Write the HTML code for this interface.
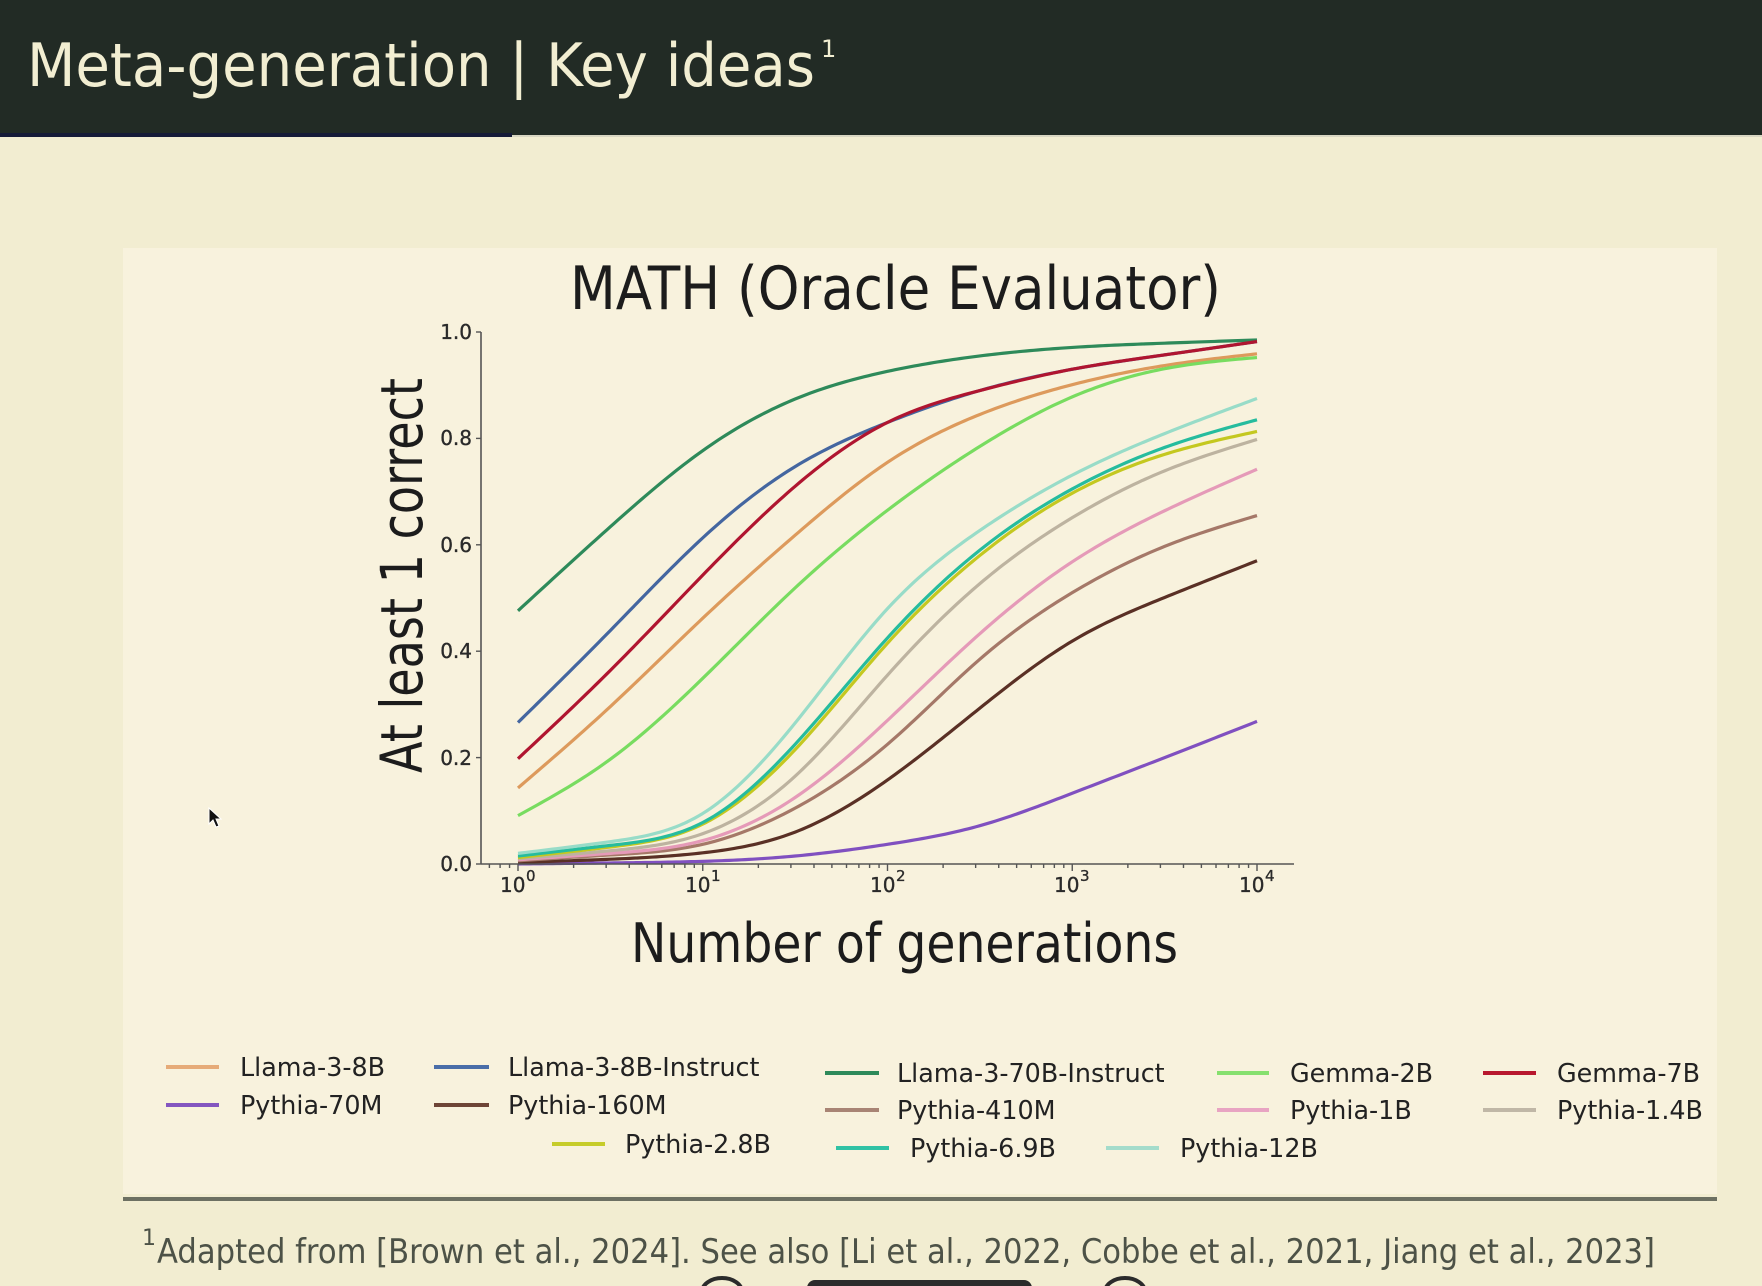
<!DOCTYPE html>
<html><head><meta charset="utf-8">
<style>
html,body{margin:0;padding:0;background:#f2edd1;overflow:hidden;}
svg{display:block}
text{font-family:"DejaVu Sans","Liberation Sans",sans-serif;}
</style></head>
<body>
<svg id="s" width="1762" height="1286" viewBox="0 0 1762 1286" xmlns="http://www.w3.org/2000/svg">
<rect width="1762" height="1286" fill="#f2edd1"/>
<!-- header -->
<rect x="0" y="0" width="1762" height="135" fill="#222b25"/>
<rect x="0" y="133" width="512" height="4" fill="#161b38"/>
<rect x="512" y="135" width="1250" height="2" fill="#d8d6c2"/>
<text x="27" y="86" font-size="60" fill="#f2eed2" textLength="788" lengthAdjust="spacingAndGlyphs">Meta-generation | Key ideas</text>
<text x="821" y="57" font-size="24" fill="#f2eed2">1</text>

<!-- chart panel -->
<rect x="123" y="248" width="1594" height="946" fill="#f8f2dd"/>

<!-- chart title -->
<text x="570" y="309" font-size="60" fill="#1c1c1c" textLength="651" lengthAdjust="spacingAndGlyphs">MATH (Oracle Evaluator)</text>

<!-- y label -->
<text transform="translate(422,773) rotate(-90)" x="0" y="0" font-size="58" fill="#1c1c1c" textLength="395" lengthAdjust="spacingAndGlyphs">At least 1 correct</text>
<!-- x label -->
<text x="631" y="962" font-size="54" fill="#1c1c1c" textLength="547" lengthAdjust="spacingAndGlyphs">Number of generations</text>

<!-- curves -->
<g id="curves" fill="none" stroke-width="3.2" stroke-linejoin="round" stroke-linecap="butt"></g>

<!-- axes -->
<g id="axes" stroke="#555" stroke-width="1.6" fill="none">
  <line x1="481" y1="332" x2="481" y2="864"/>
  <line x1="481" y1="864" x2="1294" y2="864"/>
</g>
<g id="ticks" stroke="#555" stroke-width="1.4"></g>

<!-- y tick labels -->
<g font-size="20" fill="#2a2a2a" stroke="#2a2a2a" stroke-width="0.35" text-anchor="end">
  <text x="472" y="871">0.0</text>
  <text x="472" y="765">0.2</text>
  <text x="472" y="658">0.4</text>
  <text x="472" y="552">0.6</text>
  <text x="472" y="445">0.8</text>
  <text x="472" y="339">1.0</text>
</g>
<!-- x tick labels -->
<g font-size="20" fill="#2a2a2a" stroke="#2a2a2a" stroke-width="0.35">
  <text x="500" y="892">10</text><text x="526" y="881" font-size="15">0</text>
  <text x="685" y="892">10</text><text x="711" y="881" font-size="15">1</text>
  <text x="870" y="892">10</text><text x="896" y="881" font-size="15">2</text>
  <text x="1054" y="892">10</text><text x="1080" y="881" font-size="15">3</text>
  <text x="1239" y="892">10</text><text x="1265" y="881" font-size="15">4</text>
</g>

<!-- legend -->
<g stroke-width="4">
  <line x1="166" y1="1067" x2="219" y2="1067" stroke="#e6ab78"/>
  <line x1="434" y1="1067" x2="489" y2="1067" stroke="#4a6ea8"/>
  <line x1="166" y1="1105" x2="219" y2="1105" stroke="#8456c0"/>
  <line x1="434" y1="1105" x2="489" y2="1105" stroke="#6e4536"/>
  <line x1="552" y1="1144" x2="605" y2="1144" stroke="#c6cc2a"/>
  <line x1="825" y1="1073" x2="879" y2="1073" stroke="#2e8a5a"/>
  <line x1="1217" y1="1073" x2="1269" y2="1073" stroke="#86e06e"/>
  <line x1="1483" y1="1073" x2="1536" y2="1073" stroke="#b8182e"/>
  <line x1="825" y1="1110" x2="879" y2="1110" stroke="#a88474"/>
  <line x1="1217" y1="1110" x2="1269" y2="1110" stroke="#e8a4c2"/>
  <line x1="1483" y1="1110" x2="1536" y2="1110" stroke="#c0b7a6"/>
  <line x1="836" y1="1148" x2="889" y2="1148" stroke="#30c2a4"/>
  <line x1="1106" y1="1148" x2="1159" y2="1148" stroke="#a4dccb"/>
</g>
<g font-size="25.4" fill="#222">
  <text x="240" y="1076">Llama-3-8B</text>
  <text x="508" y="1076">Llama-3-8B-Instruct</text>
  <text x="240" y="1114">Pythia-70M</text>
  <text x="508" y="1114">Pythia-160M</text>
  <text x="625" y="1153">Pythia-2.8B</text>
  <text x="897" y="1082">Llama-3-70B-Instruct</text>
  <text x="1290" y="1082">Gemma-2B</text>
  <text x="1557" y="1082">Gemma-7B</text>
  <text x="897" y="1119">Pythia-410M</text>
  <text x="1290" y="1119">Pythia-1B</text>
  <text x="1557" y="1119">Pythia-1.4B</text>
  <text x="910" y="1157">Pythia-6.9B</text>
  <text x="1180" y="1157">Pythia-12B</text>
</g>

<!-- footer rule -->
<rect x="123" y="1197" width="1594" height="4" fill="#6d7062"/>
<!-- footnote -->
<text x="142" y="1245" font-size="22" fill="#4d5247">1</text>
<text x="157" y="1263" font-size="34" fill="#4d5247" textLength="1498" lengthAdjust="spacingAndGlyphs">Adapted from [Brown et al., 2024]. See also [Li et al., 2022, Cobbe et al., 2021, Jiang et al., 2023]</text>

<!-- cursor -->
<path d="M209,808 L209,824 L213,820 L216,827 L219,826 L216,819 L221,819 Z" fill="#111" stroke="#fff" stroke-width="1"/>

<!-- bottom video controls peeking -->
<path d="M702,1292 A20,14 0 0 1 742,1292" stroke="#2b2b2b" stroke-width="4" fill="none"/>
<rect x="807" y="1280" width="225" height="20" rx="8" fill="#2b2b2b"/>
<path d="M1105,1292 A20,14 0 0 1 1145,1292" stroke="#2b2b2b" stroke-width="4" fill="none"/>
</svg>
<script>
(function(){
var NS='http://www.w3.org/2000/svg';
function X(l){return 518+l*184.75;}
function Y(v){return 864-v*532;}
var series=[
 ['#dd9a5c',[0.143,0.296,0.462,0.618,0.755,0.845,0.901,0.937,0.959]],
 ['#4466a0',[0.266,0.439,0.613,0.747,0.83,0.89,0.93,0.957,0.982]],
 ['#2e8a5a',[0.476,0.634,0.777,0.874,0.926,0.955,0.971,0.979,0.985]],
 ['#78dc60',[0.091,0.197,0.349,0.519,0.665,0.785,0.878,0.931,0.952]],
 ['#b01530',[0.198,0.364,0.543,0.71,0.83,0.89,0.93,0.957,0.982]],
 ['#8050c0',[0,0.002,0.005,0.015,0.037,0.072,0.133,0.2,0.268]],
 ['#5a3025',[0.003,0.009,0.021,0.06,0.158,0.293,0.419,0.501,0.57]],
 ['#a57868',[0.006,0.017,0.037,0.105,0.225,0.385,0.51,0.597,0.655]],
 ['#e59ab8',[0.008,0.02,0.044,0.125,0.27,0.433,0.568,0.664,0.742]],
 ['#bdb3a0',[0.01,0.025,0.057,0.165,0.355,0.527,0.651,0.739,0.798]],
 ['#c4c820',[0.012,0.032,0.075,0.215,0.415,0.58,0.697,0.77,0.813]],
 ['#26bc9e',[0.015,0.035,0.078,0.225,0.425,0.59,0.705,0.783,0.835]],
 ['#98dcc8',[0.02,0.042,0.095,0.265,0.48,0.627,0.731,0.809,0.875]]
];
function pathFor(y){
 var n=y.length,h=0.5,i,k;
 var M=new Array(n).fill(0);
 var a=[],b=[],c=[],r=[];
 for(i=1;i<n-1;i++){a.push(1);b.push(4);c.push(1);r.push(6/(h*h)*(y[i+1]-2*y[i]+y[i-1]));}
 var m=r.length;
 for(i=1;i<m;i++){var w=a[i]/b[i-1];b[i]-=w*c[i-1];r[i]-=w*r[i-1];}
 var sol=new Array(m);
 sol[m-1]=r[m-1]/b[m-1];
 for(i=m-2;i>=0;i--)sol[i]=(r[i]-c[i]*sol[i+1])/b[i];
 for(i=0;i<m;i++)M[i+1]=sol[i];
 var p='';
 for(i=0;i<n-1;i++){
  for(k=0;k<=24;k++){
   if(i>0&&k===0)continue;
   var t=k/24, A=1-t, B=t;
   var v=A*y[i]+B*y[i+1]+((A*A*A-A)*M[i]+(B*B*B-B)*M[i+1])*h*h/6;
   if(v<0)v=0;
   var l=(i+t)*h;
   p+=(p?'L':'M')+X(l).toFixed(2)+','+Y(v).toFixed(2);
  }
 }
 return p;
}
var g=document.getElementById('curves');
series.forEach(function(s){
 var e=document.createElementNS(NS,'path');
 e.setAttribute('d',pathFor(s[1]));
 e.setAttribute('stroke',s[0]);
 g.appendChild(e);
});
var tg=document.getElementById('ticks');
function line(x1,y1,x2,y2){var e=document.createElementNS(NS,'line');e.setAttribute('x1',x1);e.setAttribute('y1',y1);e.setAttribute('x2',x2);e.setAttribute('y2',y2);tg.appendChild(e);}
for(var dec=-1;dec<=4;dec++){
 for(var k=1;k<=9;k++){
  var l=dec+Math.log10(k);
  var x=X(l);
  if(x<481||x>1294)continue;
  if(k===1)line(x,864,x,871); else line(x,864,x,868);
 }
}
[0,0.2,0.4,0.6,0.8,1].forEach(function(v){line(476,Y(v),481,Y(v));});
})();
</script>
</body></html>
